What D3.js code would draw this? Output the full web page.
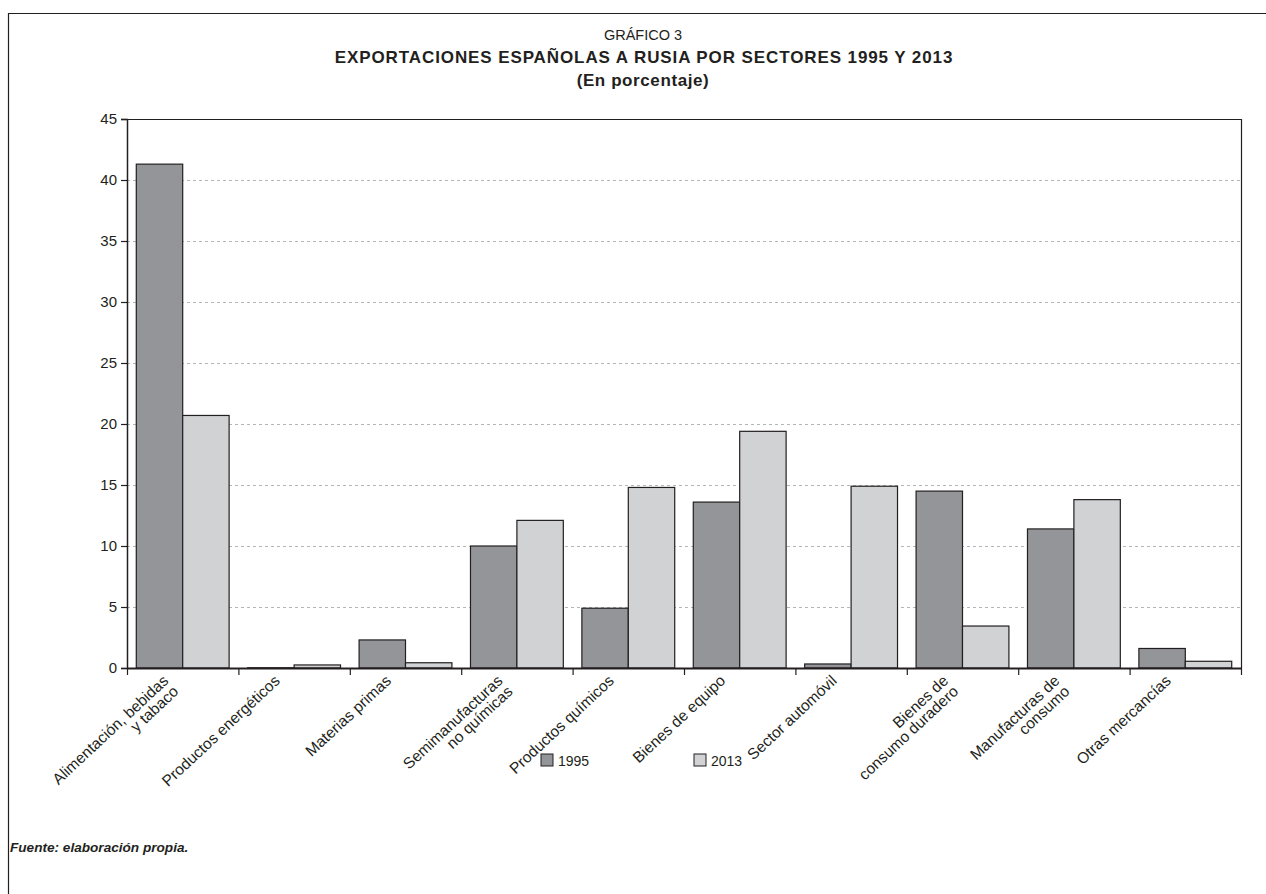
<!DOCTYPE html>
<html>
<head>
<meta charset="utf-8">
<title>Exportaciones españolas a Rusia</title>
<script src="https://d3js.org/d3.v7.min.js"></script>
<style>
  body { margin: 0; background: #fff; }
  text { font-family: "Liberation Sans", Arial, sans-serif; fill: #231f20; }
</style>
</head>
<body>
<div id="chart"></div>
<script>
// sectors, each label split into its lines
var sectors = [
  ["Alimentación, bebidas", "y tabaco"],
  ["Productos energéticos"],
  ["Materias primas"],
  ["Semimanufacturas", "no químicas"],
  ["Productos químicos"],
  ["Bienes de equipo"],
  ["Sector automóvil"],
  ["Bienes de", "consumo duradero"],
  ["Manufacturas de", "consumo"],
  ["Otras mercancías"]
];
var years = ["1995", "2013"];
var values1995 = [41.3, 0.02, 2.3, 10.0, 4.9, 13.6, 0.33, 14.5, 11.4, 1.6];
var values2013 = [20.7, 0.25, 0.43, 12.1, 14.8, 19.4, 14.9, 3.44, 13.8, 0.55];
var yTicks = [0, 5, 10, 15, 20, 25, 30, 35, 40, 45];
var colors = ["#939598", "#d1d2d4"];

var W = 1266, H = 894;
// plot box (don't call it "top", that clashes with window.top)
var pLeft = 127, pRight = 1241, pTop = 119, pBottom = 668;

var svg = d3.select("#chart").append("svg")
  .attr("width", W).attr("height", H);

// outer frame (runs off the right and bottom edge)
svg.append("path")
  .attr("d", "M8.5," + H + "V13.5H" + W)
  .attr("fill", "none").attr("stroke", "#231f20").attr("stroke-width", 1.2);

// titles
svg.append("text").attr("x", 643).attr("y", 40).attr("text-anchor", "middle")
  .style("font-size", "14.5px").text("GRÁFICO 3");
svg.append("text").attr("x", 644).attr("y", 63).attr("text-anchor", "middle")
  .style("font-size", "17px").style("font-weight", "bold").style("letter-spacing", "0.9px")
  .text("EXPORTACIONES ESPAÑOLAS A RUSIA POR SECTORES 1995 Y 2013");
svg.append("text").attr("x", 643).attr("y", 86).attr("text-anchor", "middle")
  .style("font-size", "17px").style("font-weight", "bold").style("letter-spacing", "0.6px")
  .text("(En porcentaje)");

var x = d3.scaleBand().domain(d3.range(sectors.length))
  .range([pLeft, pRight]).paddingInner(0).paddingOuter(0);
var xInner = d3.scaleBand().domain(years)
  .range([0, x.bandwidth()]).paddingOuter(0.2).paddingInner(0);
var y = d3.scaleLinear().domain([0, 45]).range([pBottom, pTop]);

// gridlines
svg.append("g").selectAll("line").data(yTicks.filter(function (d) { return d > 0 && d < 45; }))
  .join("line")
  .attr("x1", pLeft).attr("x2", pRight)
  .attr("y1", function (d) { return Math.round(y(d)) + 0.5; })
  .attr("y2", function (d) { return Math.round(y(d)) + 0.5; })
  .attr("stroke", "#b5b6b8").attr("stroke-dasharray", "3,3");

// plot frame: top and right
svg.append("path")
  .attr("d", "M" + pLeft + "," + (pTop + 0.5) + "H" + (pRight + 0.5) + "V" + pBottom)
  .attr("fill", "none").attr("stroke", "#231f20").attr("stroke-width", 1.2);

// bars
var series = [values1995, values2013];
series.forEach(function (vals, s) {
  svg.append("g").selectAll("rect").data(vals).join("rect")
    .attr("x", function (d, i) { return x(i) + xInner(years[s]); })
    .attr("width", xInner.bandwidth())
    .attr("y", function (d) { return y(d); })
    .attr("height", function (d) { return pBottom - y(d); })
    .attr("fill", colors[s])
    .attr("stroke", "#231f20").attr("stroke-width", 1.2);
});

// y axis
var yAxis = d3.axisLeft(y).tickValues(yTicks).tickSize(6).tickPadding(4);
var gy = svg.append("g").attr("transform", "translate(" + pLeft + ",0)").call(yAxis);
gy.select(".domain").attr("stroke", "#231f20").attr("stroke-width", 1.5);
gy.selectAll(".tick line").attr("stroke", "#231f20").attr("stroke-width", 1.2);
gy.selectAll(".tick text").style("font-size", "15px")
  .style("font-family", "Liberation Sans, Arial, sans-serif").attr("fill", "#231f20");

// x axis: line plus ticks at category boundaries
svg.append("line").attr("x1", pLeft).attr("x2", pRight + 0.5)
  .attr("y1", pBottom + 0.5).attr("y2", pBottom + 0.5)
  .attr("stroke", "#231f20").attr("stroke-width", 1.8);
var bounds = d3.range(sectors.length + 1).map(function (i) {
  return i < sectors.length ? x(i) : pRight;
});
svg.append("g").selectAll("line").data(bounds).join("line")
  .attr("x1", function (d) { return d + 0.5; }).attr("x2", function (d) { return d + 0.5; })
  .attr("y1", pBottom).attr("y2", pBottom + 7)
  .attr("stroke", "#231f20").attr("stroke-width", 1.2);

// category labels, rotated
var labels = svg.append("g").selectAll("text").data(sectors).join("text")
  .attr("transform", function (d, i) {
    return "translate(" + (x(i) + x.bandwidth() / 2 - 17) + "," + (pBottom + 10) + ") rotate(-43)";
  })
  .attr("text-anchor", "end")
  .style("font-size", "15.5px");
labels.selectAll("tspan").data(function (d) { return d; }).join("tspan")
  .attr("x", 0)
  .attr("dy", function (d, j) { return j === 0 ? "0.35em" : "0.95em"; })
  .text(function (d) { return d; });

// legend
var legend = svg.append("g").selectAll("g").data(years).join("g")
  .attr("transform", function (d, i) { return "translate(" + (541 + i * 153) + ",754)"; });
legend.append("rect").attr("width", 12).attr("height", 12)
  .attr("fill", function (d, i) { return colors[i]; })
  .attr("stroke", "#231f20").attr("stroke-width", 1);
legend.append("text").attr("x", 17).attr("y", 11.5)
  .style("font-size", "14px").text(function (d) { return d; });

// source
svg.append("text").attr("x", 10).attr("y", 852)
  .style("font-size", "13.6px").style("font-weight", "bold").style("font-style", "italic")
  .text("Fuente: elaboración propia.");
</script>
</body>
</html>
